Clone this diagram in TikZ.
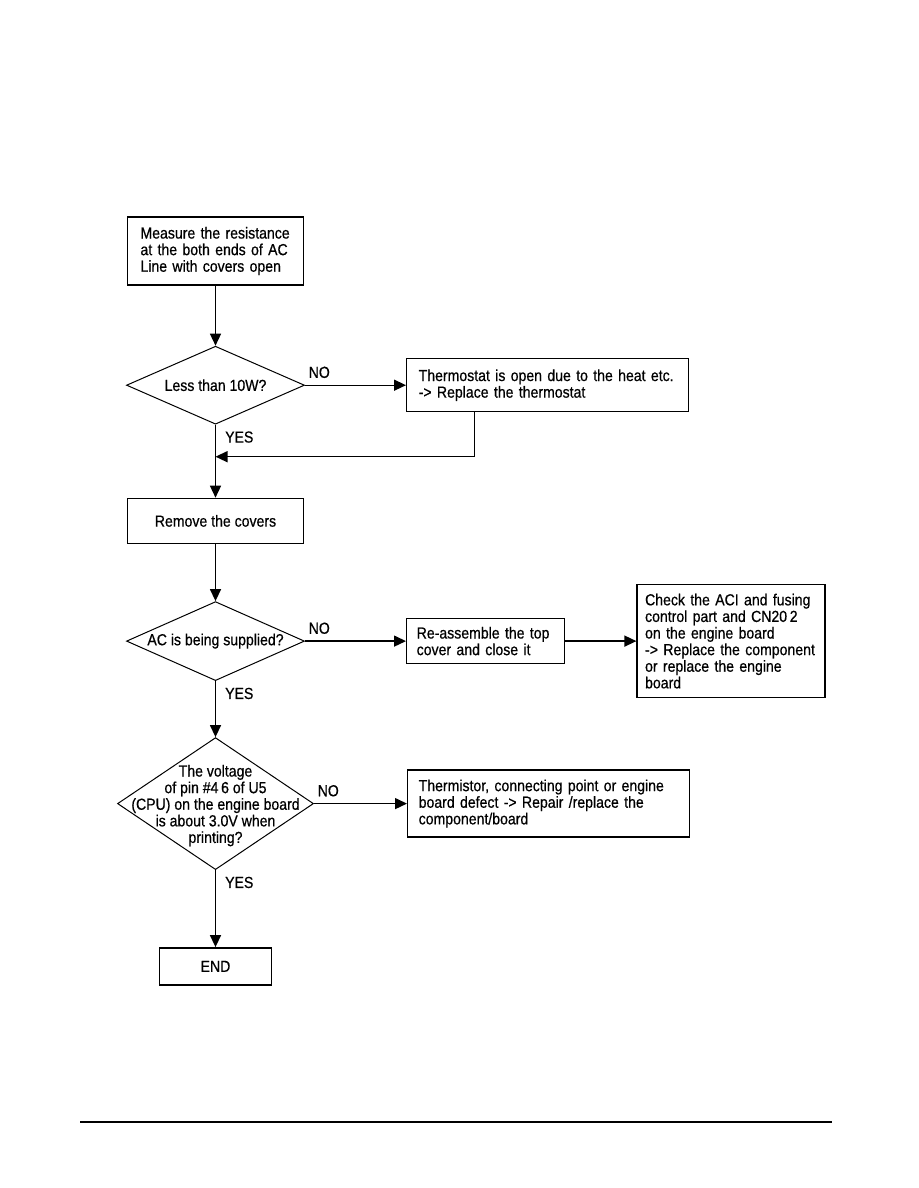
\documentclass[tikz,border=0pt]{standalone}
\usepackage{fontspec}
\setmainfont{Liberation Sans}[FakeStretch=0.88, FakeBold=0.6]
\usetikzlibrary{arrows.meta, positioning, shapes.geometric}

\begin{document}
\begin{tikzpicture}[
    x=1pt, y=1pt,
    every node/.style={font=\fontsize{16pt}{16.6pt}\selectfont},
    box/.style={draw, line width=1.4pt, align=left, inner ysep=0pt},
    decision/.style={draw, diamond, line width=1pt, shape aspect=2.3, inner sep=0pt, align=center},
    arrow/.style={-{Triangle[length=12pt, width=11pt]}, line width=1.4pt},
    yeslabel/.style={anchor=north west, inner sep=2pt, xshift=7pt, yshift=-4pt},
    nolabel/.style={anchor=south west, inner sep=2pt, xshift=1pt, yshift=4.5pt}
]
\useasboundingbox (0,0) rectangle (918,-1188);

% --- Main column ---
\node[box, text width=150pt, inner xsep=13pt, minimum height=68pt] (measure) at (215.5,-251) {Measure the resistance\\at the both ends of AC\\Line with covers open};
\node[decision, minimum width=178pt, minimum height=78pt, below=60pt of measure] (less) {Less than 10W?};
\coordinate[below=32pt of less.south] (merge);
\node[box, align=center, minimum width=176pt, minimum height=45pt, below=73pt of less] (remove) {Remove the covers};
\node[decision, minimum width=178pt, minimum height=79pt, below=57pt of remove] (supply) {AC is being supplied?};
\node[decision, minimum width=196pt, minimum height=132pt, below=56pt of supply] (voltage) {};
\node[align=center, yshift=-2pt] (voltagetext) at (voltage) {The voltage\\of pin \#4\,6 of U5\\(CPU) on the engine board\\is about 3.0V when\\printing?};
\node[box, align=center, minimum width=112pt, minimum height=37pt, below=77pt of voltage] (done) {END};

% --- Right side ---
\node[box, text width=258pt, inner xsep=12pt, minimum height=53pt, right=101pt of less] (thermostat) {Thermostat is open due to the heat etc.\\-> Replace the thermostat};
\node[box, text width=138pt, inner xsep=10pt, minimum height=45pt, right=101pt of supply] (reassemble) {Re-assemble the top\\cover and close it};
\node[box, text width=172pt, inner xsep=8pt, minimum height=113pt, right=71pt of reassemble] (check) {Check the ACI and fusing\\control part and CN20\,2\\on the engine board\\-> Replace the component\\or replace the engine\\board};
\node[box, text width=260pt, inner xsep=11pt, minimum height=67pt, right=93pt of voltage] (thermistor) {Thermistor, connecting point or engine\\board defect -> Repair /replace the\\component/board};

% Arrows
\draw[arrow] (measure) -- (less);
\draw[arrow] (less) -- node[yeslabel, pos=0] (yes1) {YES} (remove);
\draw[arrow] (less) -- node[nolabel, pos=0] (no1) {NO} (thermostat);
\draw[arrow] ([xshift=-73pt]thermostat.south) |- (merge);
\draw[arrow] (remove) -- (supply);
\draw[arrow] (supply) -- node[yeslabel, pos=0] (yes2) {YES} (voltage);
\draw[arrow] (supply) -- node[nolabel, pos=0] (no2) {NO} (reassemble);
\draw[arrow] (reassemble) -- (check);
\draw[arrow] (voltage) -- node[yeslabel, pos=0] (yes3) {YES} (done);
\draw[arrow] (voltage) -- node[nolabel, pos=0] (no3) {NO} (thermistor);

% Footer rule
\draw[line width=1.3pt] (80,-1122) -- (832,-1122);

\end{tikzpicture}
\end{document}
